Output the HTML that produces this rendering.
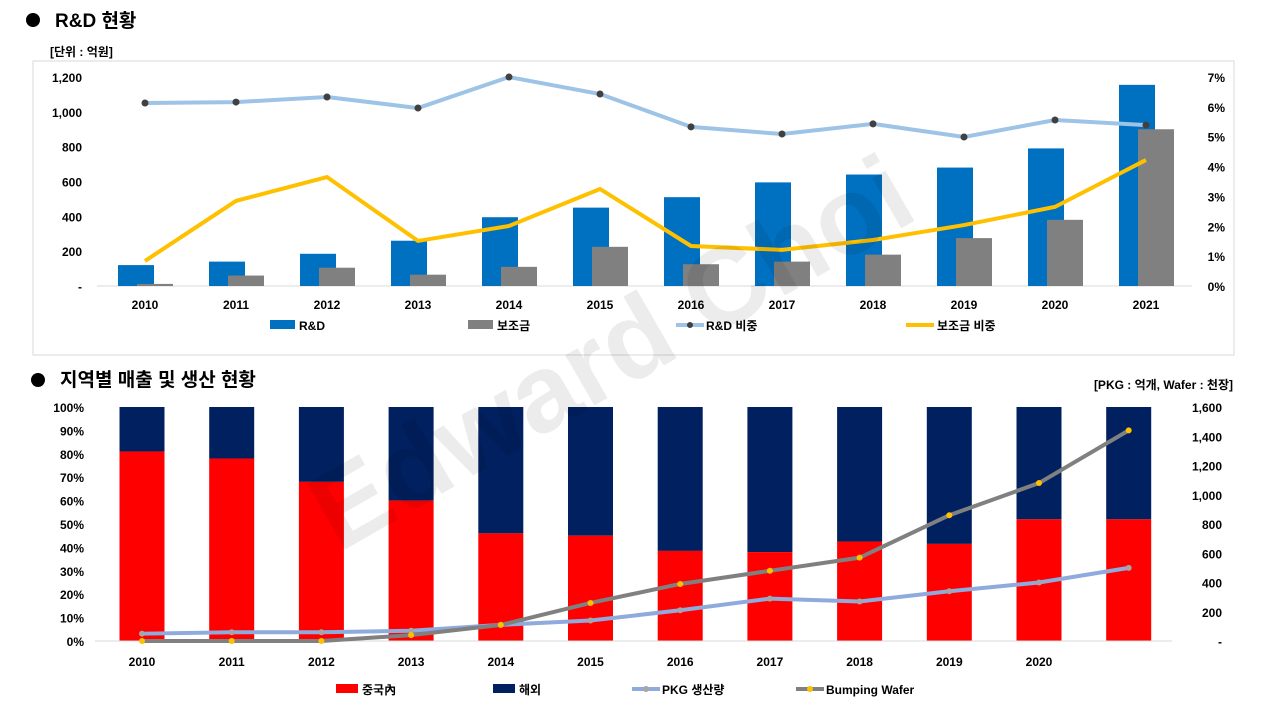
<!DOCTYPE html>
<html><head><meta charset="utf-8">
<style>
body{margin:0;width:1280px;height:720px;background:#fff;overflow:hidden;font-family:"Liberation Sans","Noto Sans CJK KR",sans-serif;}
svg{position:absolute;left:0;top:0}
text{font-family:"Liberation Sans","Noto Sans CJK KR",sans-serif;font-weight:bold;fill:#000}
</style></head><body>
<svg id="s" width="1280" height="720">
 <circle cx="33" cy="20" r="7" fill="#000"/>
 <text x="55" y="27" font-size="19">R&amp;D 현황</text>
 <text x="50" y="56" font-size="12">[단위 : 억원]</text>
 <rect x="33" y="61" width="1201" height="294" fill="none" stroke="#d9d9d9"/>
 <circle cx="38" cy="380" r="7" fill="#000"/>
 <text x="60" y="386" font-size="19">지역별 매출 및 생산 현황</text>
 <text x="1233" y="389" font-size="12" text-anchor="end">[PKG : 억개, Wafer : 천장]</text>
 <g id="top"></g><g id="bot"></g>
 <text x="630" y="385" font-size="110" text-anchor="middle" transform="rotate(-30 630 385)" style="fill:#000;opacity:0.07">Edward Choi</text>
</svg>
<script>
const years=['2010','2011','2012','2013','2014','2015','2016','2017','2018','2019','2020','2021'];
const rd=[120,140,185,260,395,450,510,595,640,680,790,1155];
const subsidy=[12,60,105,65,110,225,125,140,180,275,380,900];
const rdRatio=[6.13,6.16,6.33,5.96,7.0,6.43,5.33,5.09,5.43,4.99,5.56,5.39];
const subRatio=[0.84,2.85,3.65,1.51,2.01,3.25,1.34,1.21,1.54,2.04,2.65,4.22];
const leftTicks=[0,200,400,600,800,1000,1200];
const rightTicks=[0,1,2,3,4,5,6,7];
const chinaShare=[81,78,68,60,46,45,38.5,38,42.5,41.5,52,52];
const pkg=[50,60,60,70,110,140,210,290,270,340,400,500];
const bumping=[0,0,0,40,110,260,390,480,570,860,1080,1440];
const botYears=['2010','2011','2012','2013','2014','2015','2016','2017','2018','2019','2020',''];
const pctTicks=[0,10,20,30,40,50,60,70,80,90,100];
const qtyTicks=[0,200,400,600,800,1000,1200,1400,1600];
const NS='http://www.w3.org/2000/svg';
function mk(p,tag,a){const e=document.createElementNS(NS,tag);for(const k in a)e.setAttribute(k,a[k]);p.appendChild(e);return e;}
function fmt(v){return v===0?'-':v.toLocaleString('en-US');}
const T=document.getElementById('top');
const tx=i=>145+i*91, ty=v=>286-v/1200*209, tyr=v=>286-v/7*209;
mk(T,'line',{x1:97,y1:286,x2:1192,y2:286,stroke:'#d9d9d9'});
leftTicks.forEach(v=>{const t=mk(T,'text',{x:82,y:ty(v)+5,'font-size':12,'text-anchor':'end'});t.textContent=fmt(v);

});
rightTicks.forEach(v=>{const t=mk(T,'text',{x:1225,y:tyr(v)+5,'font-size':12,'text-anchor':'end'});t.textContent=v+'%';

});
years.forEach((y,i)=>{
 const b=mk(T,'rect',{x:tx(i)-27,y:ty(rd[i]),width:36,height:286-ty(rd[i]),fill:'#0070c0'});
 
 
 const g=mk(T,'rect',{x:tx(i)-8,y:ty(subsidy[i]),width:36,height:286-ty(subsidy[i]),fill:'#808080'});
 
 
 const t=mk(T,'text',{x:tx(i),y:309,'font-size':12,'text-anchor':'middle'});t.textContent=y;
 
 
});
const l1=mk(T,'polyline',{points:rdRatio.map((v,i)=>tx(i)+','+tyr(v)).join(' '),fill:'none',stroke:'#9dc3e6','stroke-width':4});


rdRatio.forEach((v,i)=>{const c=mk(T,'circle',{cx:tx(i),cy:tyr(v),r:3.5,fill:'#404040'});

});
const l2=mk(T,'polyline',{points:subRatio.map((v,i)=>tx(i)+','+tyr(v)).join(' '),fill:'none',stroke:'#ffc000','stroke-width':4});


[[270,'#0070c0','R&D'],[468,'#808080','보조금']].forEach(([x,c,s])=>{const r=mk(T,'rect',{x:x,y:320,width:25,height:9,fill:c});


const t=mk(T,'text',{x:x+29,y:330,'font-size':12});t.textContent=s;

});
mk(T,'line',{x1:676,y1:325,x2:704,y2:325,stroke:'#9dc3e6','stroke-width':4});
mk(T,'circle',{cx:690,cy:325,r:3,fill:'#404040'});
let t1=mk(T,'text',{x:706,y:330,'font-size':12});t1.textContent='R&D 비중';


mk(T,'line',{x1:906,y1:325,x2:934,y2:325,stroke:'#ffc000','stroke-width':4});
let t2=mk(T,'text',{x:937,y:330,'font-size':12});t2.textContent='보조금 비중';


const B=document.getElementById('bot');
const bx=i=>142+i*89.7, by=v=>641-v/100*234, byr=v=>641-v/1600*234;
pctTicks.forEach(v=>{const t=mk(B,'text',{x:84,y:by(v)+5,'font-size':12,'text-anchor':'end'});t.textContent=v+'%';

});
qtyTicks.forEach(v=>{const t=mk(B,'text',{x:1222,y:byr(v)+5,'font-size':12,'text-anchor':'end'});t.textContent=fmt(v);

});
chinaShare.forEach((v,i)=>{
 const n=mk(B,'rect',{x:bx(i)-22.5,y:by(100),width:45,height:by(v)-by(100),fill:'#002060'});
 
 
 const r=mk(B,'rect',{x:bx(i)-22.5,y:by(v),width:45,height:641-by(v),fill:'#ff0000'});
 
 
 if(botYears[i]){const t=mk(B,'text',{x:bx(i),y:666,'font-size':12,'text-anchor':'middle'});t.textContent=botYears[i];
 
 }
});
mk(B,'line',{x1:95,y1:641,x2:1172,y2:641,stroke:'#d9d9d9'});
const p1=mk(B,'polyline',{points:pkg.map((v,i)=>bx(i)+','+byr(v)).join(' '),fill:'none',stroke:'#8faadc','stroke-width':4});


pkg.forEach((v,i)=>{const c=mk(B,'circle',{cx:bx(i),cy:byr(v),r:3,fill:'#a6a6a6'});

});
const p2=mk(B,'polyline',{points:bumping.map((v,i)=>bx(i)+','+byr(v)).join(' '),fill:'none',stroke:'#808080','stroke-width':4});


bumping.forEach((v,i)=>{const c=mk(B,'circle',{cx:bx(i),cy:byr(v),r:3,fill:'#ffc000'});

});
[[336,'#ff0000','중국內'],[493,'#002060','해외']].forEach(([x,c,s])=>{const r=mk(B,'rect',{x:x,y:684,width:22,height:9,fill:c});


const t=mk(B,'text',{x:x+26,y:694,'font-size':12});t.textContent=s;

});
mk(B,'line',{x1:632,y1:689,x2:660,y2:689,stroke:'#8faadc','stroke-width':4});
mk(B,'circle',{cx:646,cy:689,r:3,fill:'#a6a6a6'});
let t3=mk(B,'text',{x:662,y:694,'font-size':12});t3.textContent='PKG 생산량';


mk(B,'line',{x1:796,y1:689,x2:824,y2:689,stroke:'#808080','stroke-width':4});
mk(B,'circle',{cx:810,cy:689,r:3,fill:'#ffc000'});
let t4=mk(B,'text',{x:826,y:694,'font-size':12});t4.textContent='Bumping Wafer';


</script>
</body></html>
